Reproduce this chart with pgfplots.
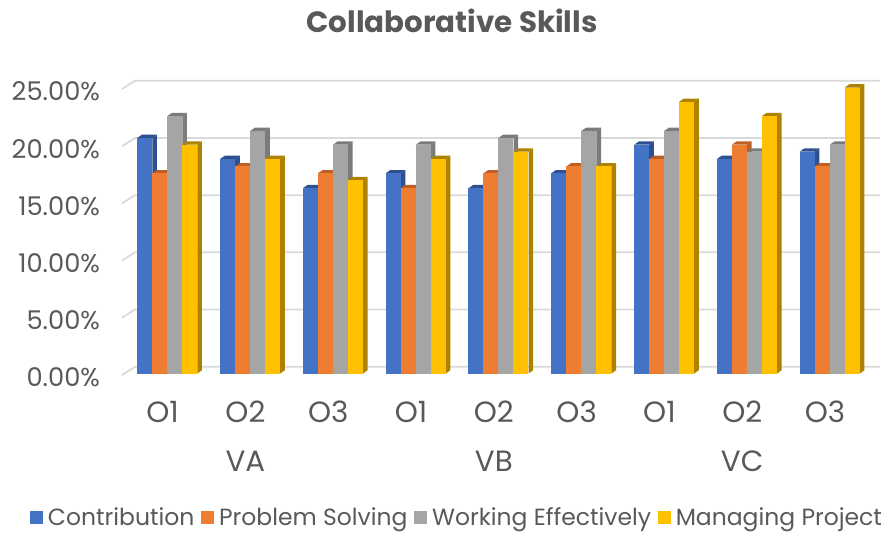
\documentclass[border=0pt]{standalone}
\usepackage{fontspec}
\setmainfont{Poppins}
\usepackage{pgfplots}
\pgfplotsset{compat=1.18}
\definecolor{txt}{HTML}{595959}
\definecolor{gridc}{HTML}{D9D9D9}
\definecolor{c0}{HTML}{4472C4}\definecolor{s0}{HTML}{2F5090}
\definecolor{c1}{HTML}{ED7D31}\definecolor{s1}{HTML}{BE5F24}
\definecolor{c2}{HTML}{A5A5A5}\definecolor{s2}{HTML}{7B7B7B}
\definecolor{c3}{HTML}{FFC000}\definecolor{s3}{HTML}{AD8200}
% k = series, #2 = group, #3 = value
\newcommand\B[3]{%
  \pgfmathsetmacro\xl{#2+(#1-2)*0.18116}%
  \pgfmathsetmacro\xr{\xl+0.18116}%
  \pgfmathsetmacro\xdl{\xl+0.0568}%
  \pgfmathsetmacro\xdr{\xr+0.0568}%
  \pgfmathsetmacro\yd{#3+0.288}%
  \pgfmathsetmacro\bs{(#1-1.5)*11.25}%
  \addplot[forget plot,fill=s#1,draw=none] coordinates {(\xr,0) (\xdr,0.288) (\xdr,\yd) (\xr,#3)};
  \addplot[forget plot,fill=s#1,draw=none] coordinates {(\xl,#3) (\xdl,\yd) (\xdr,\yd) (\xr,#3)};
  \edef\tmpplot{\noexpand\addplot[forget plot,ybar,bar width=11.25pt,bar shift=\bs pt,fill=c#1,draw=none] coordinates {(#2,#3)};}%
  \tmpplot
}
\newcommand\G[1]{%
  \pgfmathsetmacro\ya{#1-0.13}\pgfmathsetmacro\yb{#1+0.594}%
  \addplot[forget plot,gridc,line width=1.3pt] coordinates {(-0.547,\ya) (-0.39,\yb) (8.607,\yb)};
}
\begin{document}
\begin{tikzpicture}
\path[use as bounding box] (0,0) rectangle (666pt,399.75pt);
\begin{axis}[
  at={(91.5pt,119.6pt)},anchor=south west,
  scale only axis,width=572.25pt,height=214.5pt,
  xmin=-0.547,xmax=8.668,ymin=0,ymax=25,clip=false,
  axis line style={draw=none},tick style={draw=none},
  axis x line*=bottom,axis y line*=left,
  xtick={0,...,8},xticklabels={O1,O2,O3,O1,O2,O3,O1,O2,O3},
  extra x ticks={1,4,7},extra x tick labels={VA,VB,VC},
  extra x tick style={tick label style={yshift=-37.5pt,font=\fontsize{21}{23}\selectfont}},
  x tick label style={xshift=-3.5pt,yshift=-17pt,font=\fontsize{22}{24}\selectfont,text=txt},
  ytick={0,5,...,25},
  yticklabel={\pgfmathprintnumber{\tick}\%},
  y tick label style={/pgf/number format/.cd,fixed,fixed zerofill,precision=2,assume math mode=true,
    /tikz/.cd,xshift=-13pt,yshift=-3pt,font=\fontsize{19.3}{21}\selectfont,text=txt},
  legend style={at={(0.4395,-0.505)},anchor=center,draw=none,fill=none,legend columns=4,
    font=\fontsize{17.6}{20}\selectfont,text=txt,inner sep=0pt,
    /tikz/every even column/.append style={column sep=3pt}},
  legend cell align=left,
  legend image code/.code={\fill[#1,draw=none] (0pt,-4.5pt) rectangle (10pt,5.5pt);\path[draw=none,fill=none] (0pt,0pt) -- (11.5pt,0pt);},
]
\G{0}\G{5}\G{10}\G{15}\G{20}\G{25}
\B{0}{0}{20.6}\B{1}{0}{17.5}\B{2}{0}{22.5}\B{3}{0}{20.0}
\B{0}{1}{18.75}\B{1}{1}{18.1}\B{2}{1}{21.2}\B{3}{1}{18.75}
\B{0}{2}{16.2}\B{1}{2}{17.5}\B{2}{2}{20.0}\B{3}{2}{16.9}
\B{0}{3}{17.5}\B{1}{3}{16.2}\B{2}{3}{20.0}\B{3}{3}{18.75}
\B{0}{4}{16.2}\B{1}{4}{17.5}\B{2}{4}{20.6}\B{3}{4}{19.4}
\B{0}{5}{17.5}\B{1}{5}{18.1}\B{2}{5}{21.2}\B{3}{5}{18.1}
\B{0}{6}{20.0}\B{1}{6}{18.75}\B{2}{6}{21.2}\B{3}{6}{23.75}
\B{0}{7}{18.75}\B{1}{7}{20.0}\B{2}{7}{19.4}\B{3}{7}{22.5}
\B{0}{8}{19.4}\B{1}{8}{18.1}\B{2}{8}{20.0}\B{3}{8}{25.0}
\addlegendimage{fill=c0}\addlegendentry{Contribution}
\addlegendimage{fill=c1}\addlegendentry{Problem Solving}
\addlegendimage{fill=c2}\addlegendentry{Working Effectively}
\addlegendimage{fill=c3}\addlegendentry{Managing Project}
\end{axis}
\node[font=\fontsize{22}{25}\selectfont\bfseries,text=txt] at (339pt,384pt) {Collaborative Skills};
\end{tikzpicture}
\end{document}
